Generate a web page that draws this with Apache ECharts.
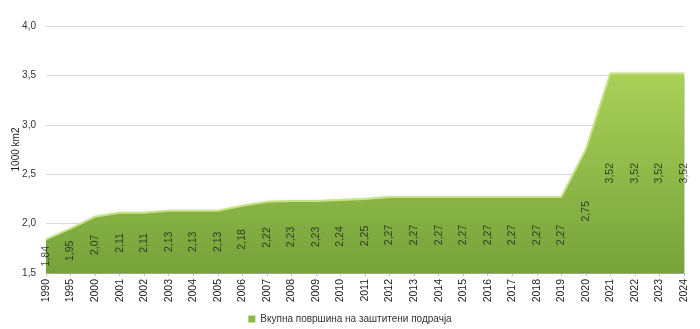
<!DOCTYPE html>
<html>
<head>
<meta charset="utf-8">
<script src="https://cdn.jsdelivr.net/npm/echarts@6/dist/echarts.min.js"></script>
<style>
  html, body { margin: 0; padding: 0; background: #fff; }
  #chart { width: 700px; height: 329px; }
</style>
</head>
<body>
<div id="chart"></div>
<script>
// Protected area totals, thousand km²
const years = ['1990', '1995', '2000', '2001', '2002', '2003', '2004', '2005', '2006', '2007',
  '2008', '2009', '2010', '2011', '2012', '2013', '2014', '2015', '2016', '2017', '2018',
  '2019', '2020', '2021', '2022', '2023', '2024'];
const area = [1.84, 1.95, 2.07, 2.11, 2.11, 2.13, 2.13, 2.13, 2.18, 2.22,
  2.23, 2.23, 2.24, 2.25, 2.27, 2.27, 2.27, 2.27, 2.27, 2.27, 2.27,
  2.27, 2.75, 3.52, 3.52, 3.52, 3.52];
const yTicks = [1.5, 2.0, 2.5, 3.0, 3.5, 4.0];
const seriesName = 'Вкупна површина на заштитени подрачја';
const yName = '1000 km2';

const yMin = yTicks[0];
const yMax = yTicks[yTicks.length - 1];
const font = 'Liberation Sans';
const fmt = v => v.toFixed(2).replace('.', ',');

// Value labels sit halfway up each column of the filled area
const labelPos = area.map(v => (v + yMin) / 2);

const chart = echarts.init(document.getElementById('chart'));
chart.setOption({
  animation: false,
  textStyle: { fontFamily: font },
  grid: { left: 46, right: 16, top: 26, bottom: 56, containLabel: false, outerBoundsMode: 'none' },
  legend: {
    bottom: 0,
    left: 'center',
    data: [{ name: seriesName, icon: 'rect' }],
    itemWidth: 7,
    itemHeight: 7,
    itemGap: 4,
    textStyle: { fontSize: 10, color: '#333', fontFamily: font }
  },
  xAxis: {
    type: 'category',
    data: years,
    boundaryGap: false,
    axisLine: { show: true, lineStyle: { color: '#bfbfbf' } },
    axisTick: { show: true, length: 3, alignWithLabel: true, lineStyle: { color: '#bfbfbf' } },
    axisLabel: { rotate: 90, fontSize: 10.5, color: '#1a1a1a', margin: 6, interval: 0 }
  },
  yAxis: {
    type: 'value',
    min: yMin,
    max: yMax,
    interval: 0.5,
    name: yName,
    nameLocation: 'middle',
    nameGap: 25,
    nameMoveOverlap: false,
    nameTextStyle: { fontSize: 10, color: '#1a1a1a' },
    axisLine: { show: false },
    axisTick: { show: false },
    axisLabel: { fontSize: 10, color: '#333', margin: 10, formatter: v => v.toFixed(1).replace('.', ',') },
    splitLine: { lineStyle: { color: '#d9d9d9', width: 1 } }
  },
  series: [
    {
      name: seriesName,
      type: 'line',
      data: area,
      symbol: 'none',
      z: 2,
      lineStyle: { color: '#c6e283', width: 2 },
      itemStyle: { color: '#8cb845' },
      areaStyle: {
        opacity: 1,
        color: new echarts.graphic.LinearGradient(0, 0, 0, 1, [
          { offset: 0, color: '#a9d159' },
          { offset: 1, color: '#76a23a' }
        ]),
        shadowColor: 'rgba(0,0,0,0.25)',
        shadowBlur: 4,
        shadowOffsetX: 2,
        shadowOffsetY: 1
      }
    },
    {
      name: 'labels',
      type: 'scatter',
      data: labelPos,
      symbolSize: 0,
      z: 3,
      silent: true,
      label: {
        show: true,
        position: 'inside',
        rotate: 90,
        fontSize: 10.5,
        color: '#1a1a1a',
        formatter: p => fmt(area[p.dataIndex])
      }
    }
  ]
});
</script>
</body>
</html>
